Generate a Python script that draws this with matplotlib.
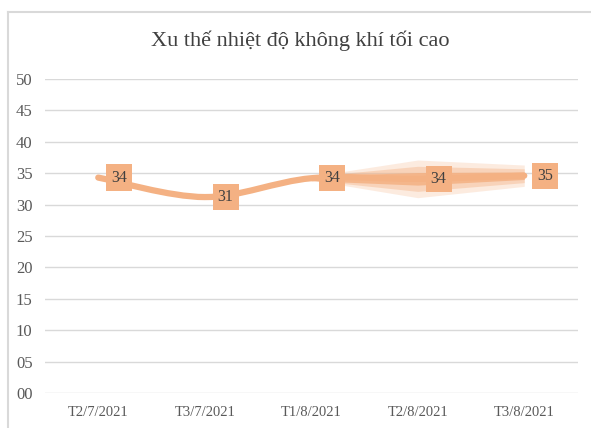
import matplotlib
matplotlib.use("Agg")
import matplotlib.pyplot as plt
from matplotlib.path import Path
from matplotlib.patches import PathPatch
from matplotlib.lines import Line2D
import numpy as np

# ---- data ----
categories = ["T2/7/2021", "T3/7/2021", "T1/8/2021", "T2/8/2021", "T3/8/2021"]
values = [34.3, 31.2, 34.2, 34.1, 34.6]
band_idx = [2, 3, 4]                 # points covered by the translucent spread
band_outer = [0.3, 3.0, 1.7]
band_mid = [0.3, 2.0, 1.1]
band_inner = [0.4, 1.0, 0.6]
yticks = [0, 5, 10, 15, 20, 25, 30, 35, 40, 45, 50]
ytick_labels = ["00", "05", "10", "15", "20", "25", "30", "35", "40", "45", "50"]
title = "Xu thế nhiệt độ không khí tối cao"

LINE = "#F4B183"
GRID = "#D9D9D9"
TXT = "#595959"
SERIF = ["Liberation Serif", "DejaVu Serif"]

fig = plt.figure(figsize=(5.91, 4.28), dpi=100)
fig.patch.set_facecolor("white")

# chart-area border (left + top)
fig.add_artist(Line2D([8/591, 8/591], [0, 1 - 12/428], color=GRID, lw=1.5, transform=fig.transFigure))
fig.add_artist(Line2D([8/591, 1], [1 - 12/428, 1 - 12/428], color=GRID, lw=1.5, transform=fig.transFigure))

ax = fig.add_axes([45/591, 1 - 393/428, 532.5/591, 314/428])
ax.set_xlim(-0.5, len(categories) - 0.5)
ax.set_ylim(0, 50)
for s in ax.spines.values():
    s.set_visible(False)
ax.set_yticks(yticks)
ax.set_yticklabels(ytick_labels)
ax.set_xticks(range(len(categories)))
ax.set_xticklabels(categories)
ax.tick_params(axis="both", length=0, colors=TXT)
ax.tick_params(axis="y", pad=9, labelsize=12)
ax.tick_params(axis="x", pad=9, labelsize=10.5)
for lab in ax.get_xticklabels() + ax.get_yticklabels():
    lab.set_family(SERIF)
ax.yaxis.grid(True, color=GRID, lw=1)
ax.set_axisbelow(True)

# translucent spread
xb = np.array(band_idx, dtype=float)
yb = np.array([values[i] for i in band_idx])
for spread, alpha in [(band_outer, 0.25), (band_mid, 0.4), (band_inner, 0.85)]:
    sp = np.array(spread)
    ax.fill_between(xb, yb - sp, yb + sp, color=LINE, alpha=alpha, lw=0, zorder=2)

# smoothed line (Excel-style Bezier)
x = np.arange(len(values), dtype=float)
y = np.array(values, dtype=float)
pts = np.column_stack([x, y])
n = len(pts)
verts = [tuple(pts[0])]
codes = [Path.MOVETO]
for i in range(n - 1):
    p0 = pts[i - 1] if i > 0 else pts[i]
    p1 = pts[i]
    p2 = pts[i + 1]
    p3 = pts[i + 2] if i + 2 < n else pts[i + 1]
    c1 = p1 + (p2 - p0) / 6.0
    c2 = p2 - (p3 - p1) / 6.0
    verts += [tuple(c1), tuple(c2), tuple(p2)]
    codes += [Path.CURVE4] * 3
path = Path(verts, codes)
ax.add_patch(PathPatch(path, facecolor="none", edgecolor=LINE, lw=4.5,
                       capstyle="round", joinstyle="round", zorder=3))

# data labels
for xi, v in zip(x, values):
    ax.annotate(f"{round(v)}", xy=(xi, v), xytext=(15, 0), textcoords="offset points",
                ha="center", va="center", fontsize=11.5, family=SERIF, color="#404040",
                bbox=dict(boxstyle="square,pad=0.32", fc=LINE, ec="none"), zorder=5)

fig.text(300/591, 1 - 41/428, title, ha="center", va="center", fontsize=16,
         family=SERIF, color="#404040")

fig.savefig("out.png", dpi=100, facecolor="white")
